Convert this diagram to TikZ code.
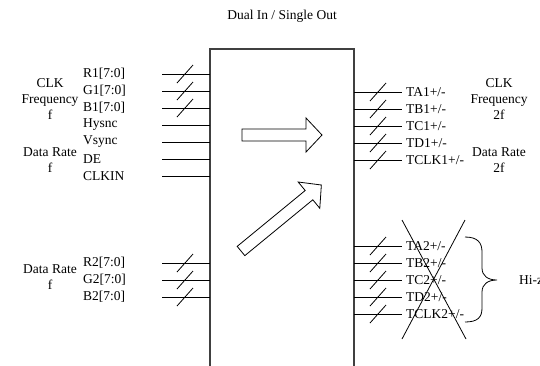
\documentclass[tikz,border=0pt]{standalone}
\usepackage{fontspec}
\setmainfont{Liberation Serif}
\usetikzlibrary{positioning}

\tikzset{
  sig/.style={line width=.8pt},
  lbl/.style={inner sep=0pt,font=\fontsize{13.5}{16}\selectfont},
  grp/.style={lbl,align=center},
  hollow/.style={line width=.8pt,fill=white,line join=miter},
}

\begin{document}
\begin{tikzpicture}[x=1pt,y=-1pt]
  \useasboundingbox (0,0) rectangle (540,365);
  \node[lbl] (title) at (282,16) {Dual In / Single Out};

  % the chip, open at the bottom
  \draw[black!75,line width=1.2pt] (210,367) -- (210,49) -- (354,49) -- (354,367);
  \coordinate (chipl) at (210,0);
  \coordinate (chipr) at (354,0);
  \coordinate (wirel) at (162,0);
  \coordinate (wirer) at (402,0);
  \coordinate (busl) at (185,0);
  \coordinate (busr) at (378,0);

  % input port 1
  \node[grp] (clkf) at (50,99) {CLK\\Frequency\\f};
  \node[grp] (ratef) at (50,160) {Data Rate\\f};
  \foreach \txt [count=\k from 0] in {R1[7:0],G1[7:0],B1[7:0],Hysnc,Vsync,DE,CLKIN}{
    \node[lbl,anchor=west] (ina\k) at (83,74+17*\k) {\txt};
    \draw[sig] (wirel |- ina\k) -- (chipl |- ina\k);
  }
  \foreach \k in {0,1,2}
    \draw[sig] ([shift={(-8,9)}]busl |- ina\k) -- ++(16,-18);

  % input port 2
  \node[grp] (rateg) at (50,277) {Data Rate\\f};
  \foreach \txt [count=\k from 0] in {R2[7:0],G2[7:0],B2[7:0]}{
    \node[lbl,anchor=west] (inb\k) at (83,263+17*\k) {\txt};
    \draw[sig] (wirel |- inb\k) -- (chipl |- inb\k);
    \draw[sig] ([shift={(-8,9)}]busl |- inb\k) -- ++(16,-18);
  }

  % output port 1
  \node[grp] (clkff) at (499,99) {CLK\\Frequency\\2f};
  \node[grp] (rateff) at (499,160) {Data Rate\\2f};
  \foreach \txt [count=\k from 0] in {TA1+/-,TB1+/-,TC1+/-,TD1+/-,TCLK1+/-}{
    \node[lbl,anchor=west] (outa\k) at (406,92+17*\k) {\txt};
    \draw[sig] (chipr |- outa\k) -- (wirer |- outa\k);
    \draw[sig] ([shift={(-8,9)}]busr |- outa\k) -- ++(16,-18);
  }

  % output port 2, unused
  \foreach \txt [count=\k from 0] in {TA2+/-,TB2+/-,TC2+/-,TD2+/-,TCLK2+/-}{
    \node[lbl,anchor=west] (outb\k) at (406,246+17*\k) {\txt};
    \draw[sig] (chipr |- outb\k) -- (wirer |- outb\k);
    \draw[sig] ([shift={(-8,9)}]busr |- outb\k) -- ++(16,-18);
  }
  \draw[sig] (402,220) -- (466,339);
  \draw[sig] (465,220) -- (402,339);
  \draw[sig] (465,237) .. controls (478,237) and (482,243) .. (482,252) -- (482,268)
    .. controls (482,276) and (488,280) .. (497,280)
    .. controls (488,280) and (482,284) .. (482,292) -- (482,308)
    .. controls (482,317) and (478,322) .. (465,322);
  \node[lbl,anchor=west] (hiz) at (519,280) {Hi-z};

  % data flow
  \draw[hollow,shift={(242,135)}]
    (0,-6) -- (64,-6) -- (64,-17) -- (80,0) -- (64,17) -- (64,6) -- (0,6) -- cycle;
  \draw[hollow,shift={(241,251)},rotate=39.4]
    (0,-6) -- (88,-6) -- (88,-17) -- (104,0) -- (88,17) -- (88,6) -- (0,6) -- cycle;
\end{tikzpicture}
\end{document}
